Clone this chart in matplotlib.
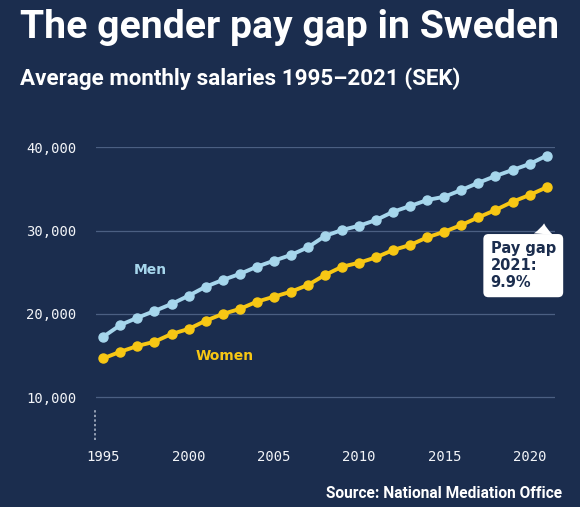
import numpy as np
import matplotlib
matplotlib.use("Agg")
import matplotlib.pyplot as plt

# average monthly salaries (SEK)
years = list(range(1995, 2022))
men = [17270, 18680, 19550, 20360, 21200, 22190, 23270, 24080, 24800, 25670,
       26390, 27080, 28000, 29360, 30080, 30590, 31280, 32270, 32960, 33680,
       34070, 34880, 35750, 36560, 37280, 38000, 39000]
women = [14680, 15470, 16160, 16670, 17600, 18200, 19190, 20000, 20600, 21470,
         22070, 22670, 23480, 24680, 25670, 26150, 26800, 27680, 28280, 29200,
         29870, 30680, 31600, 32480, 33470, 34280, 35200]
ytick_vals = [10000, 20000, 30000, 40000]
xtick_vals = [1995, 2000, 2005, 2010, 2015, 2020]

bg = "#1b2d4e"
blue = "#a6d6ec"
yellow = "#f7c714"
grid_c = "#4b5f82"
txt = "#f2f4f8"

fig = plt.figure(figsize=(5.8, 5.07), dpi=100, facecolor=bg)
ax = fig.add_axes([96/580, 1-440/507, 459/580, 293/507], facecolor=bg)

ax.set_xlim(1994.57, 2021.49)
ax.set_ylim(4876, 40040)

for v in ytick_vals:
    ax.axhline(v, color=grid_c, lw=0.9, zorder=1)

ax.plot(years, men, color=blue, lw=2.8, marker="o", ms=6.5, zorder=3)
ax.plot(years, women, color=yellow, lw=2.8, marker="o", ms=6.5, zorder=3)

# dashed marker for the broken axis
ax.axvline(1994.52, ymin=0, ymax=0.109, color="#b7c0d0", lw=1.1,
           ls=(0, (1.5, 1.5)), clip_on=False)

ax.set_yticks(ytick_vals)
ax.set_yticklabels([f"{v:,}" for v in ytick_vals])
ax.set_xticks(xtick_vals)
ax.set_xticklabels([str(y) for y in xtick_vals])
ax.tick_params(axis="both", length=0, colors=txt, labelsize=10)
ax.tick_params(axis="y", pad=14)
ax.tick_params(axis="x", pad=7)
for lab in ax.get_xticklabels() + ax.get_yticklabels():
    lab.set_family("DejaVu Sans Mono")
for s in ax.spines.values():
    s.set_visible(False)

ax.text(1997.74, 25276, "Men", color=blue, fontsize=10, fontweight="bold",
        ha="center", va="center")
ax.text(2002.14, 14956, "Women", color=yellow, fontsize=10, fontweight="bold",
        ha="center", va="center")

ax.annotate("Pay gap\n2021:\n9.9%", xy=(years[-1], women[-1]),
            xytext=(-56, -54), textcoords="offset pixels",
            ha="left", va="top", fontsize=10.5, fontweight="bold", color=bg,
            linespacing=1.15,
            bbox=dict(boxstyle="round,pad=0.5,rounding_size=0.35", fc="white", ec="none"),
            arrowprops=dict(arrowstyle="wedge,tail_width=1.3,shrink_factor=0.4",
                            fc="white", ec="none", relpos=(0.8, 1.0),
                            shrinkA=0, shrinkB=26))

fig.text(20/580, 1-28/507, "The gender pay gap in Sweden", color="white",
         fontsize=28.2, fontweight="bold", family="Roboto", ha="left", va="center")
fig.text(20/580, 1-79/507, "Average monthly salaries 1995\u20132021 (SEK)", color="white",
         fontsize=16.1, fontweight="bold", family="Roboto", ha="left", va="center")
fig.text(562/580, 1-494/507, "Source: National Mediation Office", color="white",
         fontsize=11.2, fontweight="bold", family="Roboto", ha="right", va="center")

fig.savefig("out.png", dpi=100, facecolor=bg)
